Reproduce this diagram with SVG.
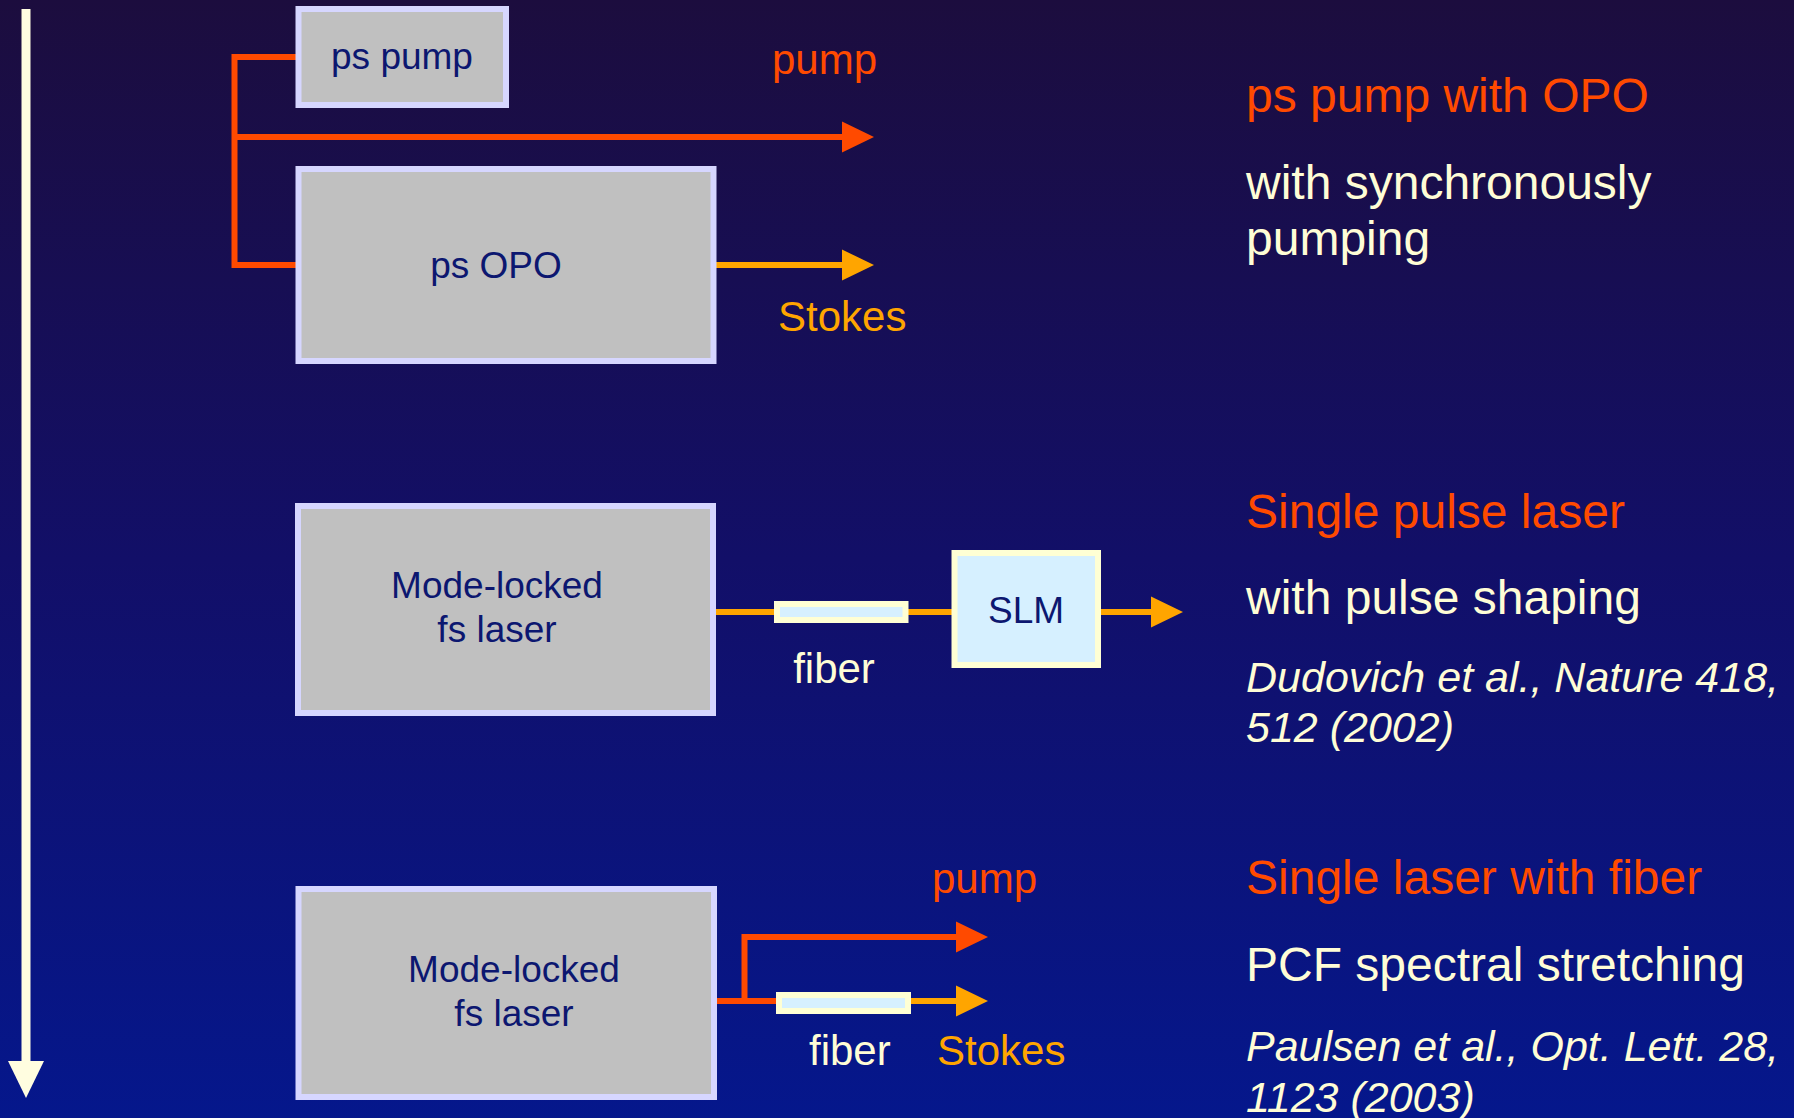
<svg xmlns="http://www.w3.org/2000/svg" width="1794" height="1118" viewBox="0 0 1794 1118">
<defs>
<linearGradient id="bg" x1="0" y1="0" x2="0" y2="1">
<stop offset="0" stop-color="#1c0d3e"/>
<stop offset="0.5" stop-color="#120f68"/>
<stop offset="1" stop-color="#05178c"/>
</linearGradient>
<marker id="arRed" markerUnits="userSpaceOnUse" markerWidth="34" markerHeight="34" refX="0" refY="15.5" orient="auto" overflow="visible">
<path d="M0,0 L32,15.5 L0,31 z" fill="#ff4a00"/>
</marker>
<marker id="arOr" markerUnits="userSpaceOnUse" markerWidth="34" markerHeight="34" refX="0" refY="15.5" orient="auto" overflow="visible">
<path d="M0,0 L32,15.5 L0,31 z" fill="#ffa500"/>
</marker>
<style>
text{font-family:"Liberation Sans",Arial,Helvetica,sans-serif}
.box{fill:#c0c0c0;stroke:#d6d6ff;stroke-width:6}
.lbox{fill:#d6f0ff;stroke:#ffffd4;stroke-width:6}
.bt{fill:#0c1770;font-size:37px;text-anchor:middle}
.red{stroke:#ff4a00;stroke-width:6;fill:none}
.org{stroke:#ffa500;stroke-width:6;fill:none}
.lr{fill:#ff4a00;font-size:42px}
.lo{fill:#ffa500;font-size:42px}
.lc{fill:#fffdd6;font-size:42px}
.h{fill:#ff4a00;font-size:48px}
.w{fill:#fffdd6;font-size:48px}
.it{fill:#fffdd6;font-size:43px;font-style:italic}
</style>
</defs>
<rect x="0" y="0" width="1794" height="1118" fill="url(#bg)"/>

<g id="connectors">
<line x1="26" y1="9" x2="26" y2="1062" stroke="#fffde0" stroke-width="9"/>
<polygon points="8,1061 44,1061 26,1098" fill="#fffde0"/>
<path class="red" d="M298,57 H234.5 V265 H298"/>
<path class="red" d="M234.5,137 H842" marker-end="url(#arRed)"/>
<path class="org" d="M716,265 H842" marker-end="url(#arOr)"/>
<path class="org" d="M716,612 H952"/>
<path class="org" d="M1101,612 H1151" marker-end="url(#arOr)"/>
<path class="red" d="M716,1001 H780"/>
<path class="red" d="M744.5,1001 V937 H956" marker-end="url(#arRed)"/>
<path class="org" d="M908,1001 H956" marker-end="url(#arOr)"/>
</g>

<g id="ps-pump">
<rect class="box" x="298.5" y="9" width="207.5" height="96"/>
<text class="bt" x="402" y="69">ps pump</text>
</g>
<g id="ps-opo">
<rect class="box" x="298.5" y="169" width="415" height="192"/>
<text class="bt" x="496" y="278">ps OPO</text>
</g>
<g id="label-pump-1"><text class="lr" x="772" y="74">pump</text></g>
<g id="label-stokes-1"><text class="lo" x="778" y="331">Stokes</text></g>

<g id="ml-laser-1">
<rect class="box" x="298" y="506" width="415" height="207"/>
<text class="bt" x="497" y="598">Mode-locked</text>
<text class="bt" x="497" y="642">fs laser</text>
</g>
<g id="fiber-1">
<rect class="lbox" x="777" y="604" width="128.5" height="16"/>
</g>
<g id="label-fiber-1"><text class="lc" x="834" y="683" text-anchor="middle">fiber</text></g>
<g id="slm">
<rect class="lbox" x="954.5" y="553" width="143.5" height="112"/>
<text class="bt" x="1026" y="623">SLM</text>
</g>

<g id="ml-laser-2">
<rect class="box" x="298.5" y="889" width="415.5" height="208"/>
<text class="bt" x="514" y="982">Mode-locked</text>
<text class="bt" x="514" y="1026">fs laser</text>
</g>
<g id="fiber-2">
<rect class="lbox" x="779" y="995" width="129" height="16"/>
</g>
<g id="label-pump-2"><text class="lr" x="932" y="893">pump</text></g>
<g id="label-fiber-2"><text class="lc" x="809" y="1065">fiber</text></g>
<g id="label-stokes-2"><text class="lo" x="937" y="1065">Stokes</text></g>

<g id="desc-1">
<text class="h" x="1246" y="112">ps pump with OPO</text>
<text class="w" x="1246" y="199">with synchronously</text>
<text class="w" x="1246" y="255">pumping</text>
</g>
<g id="desc-2">
<text class="h" x="1246" y="528">Single pulse laser</text>
<text class="w" x="1246" y="614">with pulse shaping</text>
<text class="it" x="1246" y="692">Dudovich et al., Nature 418,</text>
<text class="it" x="1246" y="742">512 (2002)</text>
</g>
<g id="desc-3">
<text class="h" x="1246" y="894">Single laser with fiber</text>
<text class="w" x="1246" y="981">PCF spectral stretching</text>
<text class="it" x="1246" y="1061">Paulsen et al., Opt. Lett. 28,</text>
<text class="it" x="1246" y="1112">1123 (2003)</text>
</g>
</svg>
